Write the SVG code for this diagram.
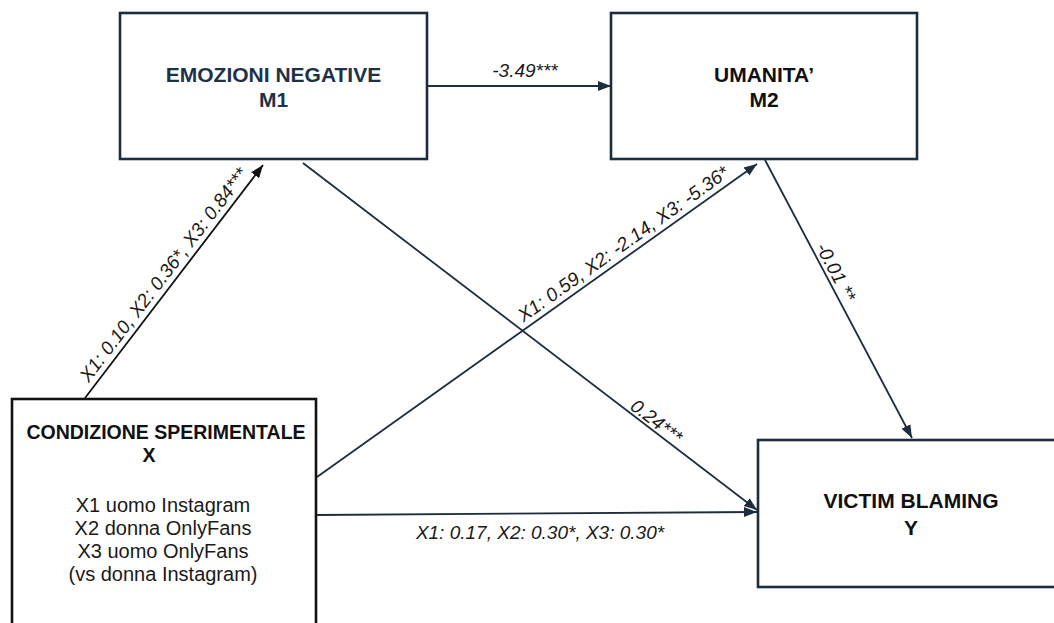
<svg xmlns="http://www.w3.org/2000/svg" width="1054" height="623" viewBox="0 0 1054 623">
  <style>
    .box { fill: #ffffff; stroke: #1c2e3e; stroke-width: 2.6; }
    .boxk { fill: #ffffff; stroke: #111111; stroke-width: 2.6; }
    .title { font-family: "Liberation Sans", Arial, sans-serif; font-weight: bold; fill: #111111; text-anchor: middle; }
    .body { font-family: "Liberation Sans", Arial, sans-serif; font-size: 20px; fill: #1a1a1a; text-anchor: middle; }
    .lbl { font-family: "Liberation Sans", Arial, sans-serif; font-style: italic; font-size: 19px; fill: #1a1a1a; text-anchor: middle; }
    .edge { fill: none; stroke: #1c2e3e; stroke-width: 1.8; }
    .edgek { fill: none; stroke: #111111; stroke-width: 1.8; }
  </style>
  <defs>
    <marker id="ah" markerUnits="userSpaceOnUse" markerWidth="14" markerHeight="12" viewBox="0 0 14 12" refX="13" refY="6" orient="auto">
      <path d="M0,1 L13,6 L0,11 Z" fill="#1c2e3e"/>
    </marker>
    <marker id="ahk" markerUnits="userSpaceOnUse" markerWidth="14" markerHeight="12" viewBox="0 0 14 12" refX="13" refY="6" orient="auto">
      <path d="M0,1 L13,6 L0,11 Z" fill="#111111"/>
    </marker>
  </defs>
  <rect width="1054" height="623" fill="#ffffff"/>

  <g id="connectors">
    <path class="edge" d="M427,86 L611,86" marker-end="url(#ah)"/>
    <path class="edgek" d="M85,398 L263,165" marker-end="url(#ahk)"/>
    <path class="edge" d="M317,477 L757,164" marker-end="url(#ah)"/>
    <path class="edge" d="M303,163 L757,510" marker-end="url(#ah)"/>
    <path class="edge" d="M765,160 L912,438" marker-end="url(#ah)"/>
    <path class="edge" d="M317,515 L757,512" marker-end="url(#ah)"/>

    <text class="lbl" x="525" y="77">-3.49***</text>
    <text class="lbl" transform="translate(173.4,282.3) rotate(-52.6)" x="0" y="-6">X1: 0.10, X2: 0.36*, X3: 0.84***</text>
    <text class="lbl" transform="translate(630.4,254) rotate(-35.4)" x="0" y="-6">X1: 0.59, X2: -2.14, X3: -5.36*</text>
    <text class="lbl" transform="translate(650.8,428.8) rotate(37.4)" x="0" y="-3">0.24***</text>
    <text class="lbl" transform="translate(826.7,276.9) rotate(62.1)" x="0" y="-4">-0.01 **</text>
    <text class="lbl" x="540" y="539">X1: 0.17, X2: 0.30*, X3: 0.30*</text>
  </g>

  <g id="node-m1">
    <rect class="box" x="120" y="13" width="307" height="146"/>
    <text class="title" x="273.5" y="82" font-size="21" fill="#1e3247" style="fill:#1e3247">EMOZIONI NEGATIVE</text>
    <text class="title" x="273.5" y="107" font-size="21" style="fill:#1e3247">M1</text>
  </g>

  <g id="node-m2">
    <rect class="box" x="611" y="13" width="306" height="146"/>
    <text class="title" x="764" y="82" font-size="21">UMANITA’</text>
    <text class="title" x="764" y="107" font-size="21">M2</text>
  </g>

  <g id="node-x">
    <rect class="boxk" x="12" y="399" width="304" height="240"/>
    <text class="title" x="166" y="439" font-size="19.5">CONDIZIONE SPERIMENTALE</text>
    <text class="title" x="149" y="462" font-size="19.5">X</text>
    <text class="body" x="163" y="512">X1 uomo Instagram</text>
    <text class="body" x="163" y="535">X2 donna OnlyFans</text>
    <text class="body" x="163" y="558">X3 uomo OnlyFans</text>
    <text class="body" x="163" y="581">(vs donna Instagram)</text>
  </g>

  <g id="node-y">
    <rect class="box" x="758" y="440" width="300" height="147"/>
    <text class="title" x="911" y="508" font-size="21">VICTIM BLAMING</text>
    <text class="title" x="911" y="535" font-size="21">Y</text>
  </g>
</svg>
